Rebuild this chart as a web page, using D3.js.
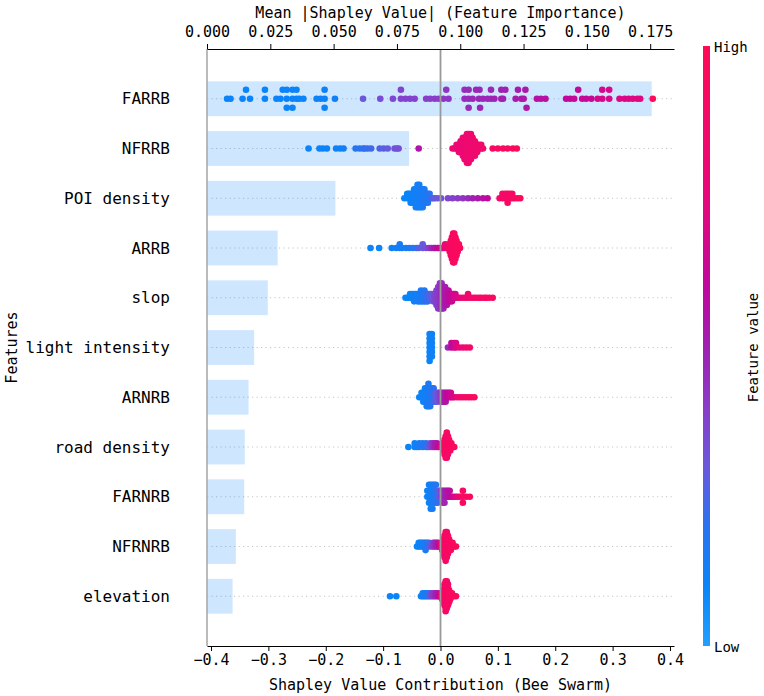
<!DOCTYPE html>
<html>
<head>
<meta charset="utf-8">
<script src="https://cdn.jsdelivr.net/npm/d3@7"></script>
<style>
  body { margin: 0; background: #fff; }
  text { font-family: "DejaVu Sans Mono", "Liberation Mono", monospace; fill: #000; }
</style>
</head>
<body>
<div id="chart"></div>
<script>
// features, top to bottom
const features = ["FARRB", "NFRRB", "POI density", "ARRB", "slop", "light intensity",
  "ARNRB", "road density", "FARNRB", "NFRNRB", "elevation"];
// mean |shap| (top axis bars)
const meanAbs = [0.1756, 0.0798, 0.0507, 0.0279, 0.0240, 0.0186, 0.0164, 0.0149, 0.0147, 0.0114, 0.0101];

const topTicks = [0, 0.025, 0.05, 0.075, 0.1, 0.125, 0.15, 0.175];
const bottomTicks = [-0.4, -0.3, -0.2, -0.1, 0, 0.1, 0.2, 0.3, 0.4];

// colorbar stops (feature value low -> high)
const cmapStops = [0, 0.1, 0.2, 0.3, 0.4, 0.5, 0.6, 0.75, 1];
const cmapColors = ["#22a0ff", "#0a84f8", "#2a72f0", "#6a58dc", "#8a3cc8", "#a020b0", "#c0089c", "#e8087a", "#ff0a55"];

// beeswarm points: [shap value, feature value (0-1), count]
const farrb = [[-0.372,0.1,1],[-0.366,0.1,1],[-0.345,0.1,1],[-0.339,0.1,1],[-0.332,0.1,1],[-0.306,0.1,2],
  [-0.286,0.1,1],[-0.279,0.1,1],[-0.275,0.1,1],[-0.268,0.1,3],[-0.258,0.1,3],[-0.251,0.1,2],[-0.246,0.1,1],
  [-0.239,0.1,1],[-0.216,0.11,1],[-0.209,0.11,1],[-0.202,0.11,3],[-0.184,0.12,1],[-0.135,0.3,1],[-0.105,0.34,1],
  [-0.083,0.36,1],[-0.069,0.37,2],[-0.061,0.38,1],[-0.053,0.38,1],[-0.045,0.38,1],[-0.025,0.39,1],[-0.018,0.39,1],
  [-0.010,0.4,1],[-0.003,0.4,1],[0.005,0.42,1],[0.010,0.42,1],[0.014,0.42,1],[0.042,0.46,2],[0.049,0.46,3],
  [0.056,0.47,1],[0.062,0.47,1],[0.067,0.47,1],[0.068,0.47,1],[0.069,0.47,1],[0.074,0.48,1],[0.082,0.48,1],
  [0.088,0.48,2],[0.094,0.49,1],[0.106,0.5,2],[0.109,0.5,1],[0.113,0.5,1],[0.131,0.52,1],[0.135,0.52,1],
  [0.141,0.53,1],[0.145,0.53,1],[0.148,0.53,1],[0.150,0.53,1],[0.168,0.56,1],[0.175,0.56,1],[0.183,0.57,1],
  [0.219,0.6,1],[0.226,0.6,1],[0.233,0.61,1],[0.240,0.61,1],[0.247,0.62,1],[0.254,0.62,1],[0.263,0.63,1],
  [0.274,0.68,1],[0.282,0.68,2],[0.294,0.69,2],[0.312,0.7,1],[0.321,0.7,1],[0.328,0.71,1],[0.335,0.71,1],
  [0.343,0.72,1],[0.348,0.72,1],[0.370,0.98,1]];

const nfrrb = [[-0.230,0.1,1],[-0.211,0.1,1],[-0.205,0.1,1],[-0.198,0.1,1],[-0.182,0.12,1],[-0.175,0.12,1],
  [-0.169,0.12,1],[-0.148,0.17,1],[-0.141,0.19,1],[-0.135,0.2,1],[-0.132,0.21,1],[-0.127,0.22,1],[-0.121,0.23,1],
  [-0.106,0.26,1],[-0.099,0.28,1],[-0.092,0.29,1],[-0.080,0.31,1],[-0.076,0.32,1],[-0.073,0.33,1],[-0.038,0.55,1],
  [0.021,0.8,1],[0.025,0.8,1],[0.028,0.8,2],[0.032,0.8,3],[0.035,0.8,4],[0.039,0.8,6],[0.042,0.8,7],[0.046,0.82,9],
  [0.049,0.82,9],[0.053,0.82,8],[0.056,0.83,6],[0.060,0.83,5],[0.064,0.84,3],[0.067,0.84,2],[0.071,0.85,2],
  [0.074,0.85,1],[0.091,0.92,1],[0.100,0.93,1],[0.109,0.93,1],[0.117,0.94,1],[0.126,0.94,1],[0.133,0.95,1]];

const poi = [[-0.063,0.1,1],[-0.058,0.1,2],[-0.055,0.1,2],[-0.052,0.1,3],[-0.049,0.12,3],[-0.046,0.12,4],
  [-0.043,0.12,5],[-0.040,0.13,6],[-0.037,0.13,6],[-0.034,0.14,5],[-0.031,0.14,5],[-0.028,0.15,4],[-0.025,0.16,3],
  [-0.022,0.17,3],[-0.019,0.18,2],[-0.016,0.2,1],[-0.013,0.26,1],[-0.010,0.28,1],[-0.005,0.3,1],[0.001,0.32,1],
  [0.013,0.36,1],[0.021,0.38,1],[0.030,0.4,1],[0.039,0.43,1],[0.048,0.46,1],[0.056,0.5,1],[0.065,0.53,1],
  [0.074,0.56,1],[0.082,0.6,1],[0.103,0.85,1],[0.108,0.88,2],[0.113,0.88,2],[0.117,0.9,3],[0.121,0.9,2],
  [0.125,0.9,2],[0.129,0.92,1],[0.134,0.92,1],[0.139,0.95,1]];

const arrb = [[-0.122,0.1,1],[-0.107,0.1,1],[-0.085,0.12,1],[-0.077,0.12,1],[-0.071,0.14,2],[-0.067,0.14,1],
  [-0.060,0.15,1],[-0.054,0.16,1],[-0.048,0.18,1],[-0.042,0.2,1],[-0.038,0.27,1],[-0.031,0.3,2],[-0.025,0.33,1],
  [-0.020,0.4,1],[-0.016,0.45,1],[-0.012,0.5,1],[-0.009,0.55,1],[-0.005,0.6,1],[-0.002,0.62,1],[0.002,0.66,1],
  [0.004,0.7,1],[0.008,0.75,2],[0.012,0.85,1],[0.014,0.88,2],[0.016,0.9,3],[0.018,0.9,5],[0.020,0.92,7],
  [0.022,0.92,9],[0.024,0.93,9],[0.026,0.93,7],[0.028,0.94,5],[0.030,0.94,3],[0.032,0.95,2],[0.034,0.95,1]];

const slop = [[-0.061,0.1,1],[-0.057,0.1,1],[-0.053,0.1,2],[-0.049,0.12,2],[-0.046,0.12,3],[-0.043,0.12,2],
  [-0.040,0.14,3],[-0.037,0.14,3],[-0.034,0.15,4],[-0.031,0.16,3],[-0.028,0.18,4],[-0.025,0.2,3],[-0.022,0.22,3],
  [-0.019,0.25,2],[-0.016,0.28,2],[-0.013,0.3,3],[-0.010,0.36,3],[-0.007,0.38,5],[-0.004,0.4,7],[-0.001,0.43,8],
  [0.002,0.46,8],[0.005,0.49,7],[0.008,0.52,6],[0.011,0.55,5],[0.014,0.58,4],[0.017,0.6,3],[0.020,0.63,3],
  [0.023,0.65,2],[0.026,0.68,2],[0.030,0.7,1],[0.034,0.74,1],[0.039,0.77,1],[0.044,0.8,1],[0.048,0.82,2],
  [0.053,0.85,1],[0.058,0.87,1],[0.062,0.88,1],[0.067,0.88,1],[0.071,0.9,1],[0.076,0.9,1],[0.080,0.92,1],
  [0.085,0.92,1],[0.091,0.95,1]];

const light = [[-0.019,0.1,7],[-0.015,0.12,6],[0.013,0.45,1],[0.019,0.6,2],[0.024,0.65,2],[0.027,0.7,2],
  [0.033,0.75,1],[0.039,0.8,1],[0.045,0.85,1],[0.051,0.9,1]];

const arnrb = [[-0.037,0.1,1],[-0.033,0.1,2],[-0.030,0.12,3],[-0.027,0.12,4],[-0.024,0.14,5],[-0.021,0.15,6],
  [-0.018,0.16,5],[-0.015,0.18,4],[-0.012,0.2,4],[-0.009,0.25,3],[-0.006,0.3,3],[-0.003,0.35,2],[0.000,0.4,3],
  [0.003,0.45,3],[0.006,0.5,3],[0.009,0.55,3],[0.012,0.6,2],[0.015,0.62,2],[0.018,0.65,2],[0.021,0.68,1],
  [0.024,0.7,1],[0.029,0.8,1],[0.034,0.85,1],[0.039,0.88,1],[0.044,0.9,1],[0.049,0.9,1],[0.054,0.92,1],
  [0.059,0.95,1]];

const road = [[-0.056,0.1,1],[-0.045,0.12,2],[-0.041,0.12,1],[-0.037,0.15,2],[-0.031,0.18,2],[-0.025,0.2,2],
  [-0.022,0.25,1],[-0.018,0.35,2],[-0.014,0.42,2],[-0.010,0.5,2],[-0.006,0.55,2],[-0.003,0.6,1],[0.001,0.75,1],
  [0.003,0.8,2],[0.005,0.85,3],[0.007,0.88,5],[0.009,0.9,7],[0.011,0.9,8],[0.013,0.9,6],[0.015,0.92,4],
  [0.017,0.92,3],[0.019,0.92,2],[0.022,0.95,1],[0.024,0.95,1]];

const farnrb = [[-0.023,0.1,2],[-0.020,0.12,4],[-0.017,0.12,5],[-0.014,0.14,5],[-0.011,0.15,4],[-0.008,0.18,4],
  [-0.005,0.22,3],[-0.002,0.28,2],[0.001,0.38,2],[0.004,0.42,3],[0.007,0.48,3],[0.010,0.52,2],[0.013,0.55,2],
  [0.016,0.58,2],[0.019,0.6,1],[0.022,0.65,1],[0.026,0.7,1],[0.030,0.75,1],[0.034,0.8,1],[0.039,0.92,3],
  [0.045,0.92,1],[0.051,0.95,1]];

const nfrnrb = [[-0.041,0.1,1],[-0.038,0.1,2],[-0.035,0.12,2],[-0.032,0.12,2],[-0.029,0.14,2],[-0.026,0.15,3],
  [-0.023,0.18,2],[-0.020,0.22,2],[-0.016,0.35,1],[-0.013,0.4,2],[-0.010,0.45,2],[-0.007,0.5,2],[-0.004,0.55,2],
  [-0.002,0.6,1],[0.001,0.75,2],[0.003,0.8,3],[0.005,0.85,5],[0.007,0.88,7],[0.009,0.9,9],[0.011,0.9,8],
  [0.013,0.9,6],[0.015,0.92,4],[0.018,0.92,3],[0.021,0.95,2],[0.024,0.95,1],[0.027,0.95,1]];

const elevation = [[-0.088,0.1,1],[-0.077,0.1,1],[-0.034,0.12,1],[-0.031,0.12,2],[-0.028,0.14,2],[-0.025,0.15,2],
  [-0.022,0.18,2],[-0.019,0.22,2],[-0.016,0.35,2],[-0.013,0.4,2],[-0.010,0.45,2],[-0.007,0.5,2],[-0.004,0.55,2],
  [-0.002,0.6,1],[0.001,0.75,2],[0.003,0.8,3],[0.005,0.85,5],[0.007,0.88,8],[0.009,0.9,11],[0.011,0.9,10],
  [0.013,0.9,8],[0.015,0.92,5],[0.017,0.92,3],[0.020,0.95,2],[0.023,0.95,1],[0.027,0.95,1]];

const swarmData = [farrb, nfrrb, poi, arrb, slop, light, arnrb, road, farnrb, nfrnrb, elevation];

const W = 764, H = 696;
const m = { left: 207, right: 674, top: 49, bottom: 646 };

const svg = d3.select("#chart").append("svg").attr("width", W).attr("height", H);

const xBot = d3.scaleLinear().domain([-0.407, 0.407]).range([m.left, m.right]);
const xTop = d3.scaleLinear().domain([0, 0.1844]).range([m.left, m.right]);
const y = d3.scaleLinear().domain([-1, features.length]).range([m.top, m.bottom]);
const color = d3.scaleLinear().domain(cmapStops).range(cmapColors).interpolate(d3.interpolateRgb);

// shap style beeswarm offsets (in row units, positive = up)
function swarm(pts) {
  const xs = pts.map(p => p.v);
  const lo = d3.min(xs), hi = d3.max(xs);
  const quant = xs.map(v => Math.round(100 * (v - lo) / (hi - lo + 1e-8)));
  const order = d3.range(xs.length).sort((a, b) => quant[a] - quant[b] || a - b);
  const ys = new Array(xs.length).fill(0);
  let layer = 0, last = -1;
  order.forEach(i => {
    if (quant[i] !== last) layer = 0;
    ys[i] = Math.ceil(layer / 2) * ((layer % 2) * 2 - 1);
    layer++;
    last = quant[i];
  });
  const mx = d3.max(ys, d => d + 1);
  return ys.map(d => d * 0.9 * (0.4 / mx));
}

// dotted row guides
svg.append("g").selectAll("line")
  .data(features)
  .join("line")
  .attr("x1", m.left).attr("x2", m.right)
  .attr("y1", (d, i) => y(i)).attr("y2", (d, i) => y(i))
  .attr("stroke", "#c4c4c4")
  .attr("stroke-width", 1)
  .attr("stroke-dasharray", "1.2,3.3");

// importance bars
const bh = y(0.35) - y(-0.35);
svg.append("g").selectAll("rect")
  .data(meanAbs)
  .join("rect")
  .attr("x", xTop(0))
  .attr("y", (d, i) => y(i) - bh / 2)
  .attr("width", d => xTop(d) - xTop(0))
  .attr("height", bh)
  .attr("fill", "#1e90ff")
  .attr("fill-opacity", 0.22);

// beeswarm
swarmData.forEach((rows, i) => {
  const pts = [];
  rows.forEach(r => { for (let k = 0; k < r[2]; k++) pts.push({ v: r[0], f: r[1] }); });
  const off = swarm(pts);
  pts.forEach((p, j) => { p.yy = i - off[j]; });
  svg.append("g").selectAll("circle")
    .data(pts)
    .join("circle")
    .attr("cx", d => xBot(d.v))
    .attr("cy", d => y(d.yy))
    .attr("r", 3.3)
    .attr("fill", d => color(d.f));
});

// zero line
svg.append("line")
  .attr("x1", xBot(0)).attr("x2", xBot(0))
  .attr("y1", m.top).attr("y2", m.bottom)
  .attr("stroke", "#999").attr("stroke-width", 1.8);

// left spine
svg.append("line")
  .attr("x1", m.left).attr("x2", m.left).attr("y1", m.top).attr("y2", m.bottom)
  .attr("stroke", "#aaa").attr("stroke-width", 1.6);

// axes
const gTop = svg.append("g").attr("transform", `translate(0,${m.top})`)
  .call(d3.axisTop(xTop).tickValues(topTicks).tickFormat(d3.format(".3f")).tickSize(5).tickSizeOuter(0));
const gBot = svg.append("g").attr("transform", `translate(0,${m.bottom})`)
  .call(d3.axisBottom(xBot).tickValues(bottomTicks).tickFormat(d3.format(".1f")).tickSize(5).tickSizeOuter(0));
[gTop, gBot].forEach(g => {
  g.selectAll("text").style("font-size", "15px").style("font-family", "DejaVu Sans Mono");
  g.select(".domain").attr("stroke", "#000");
});
gTop.selectAll(".tick text").attr("dy", "-0.25em");

// y labels
svg.append("g").selectAll("text")
  .data(features)
  .join("text")
  .attr("x", 170)
  .attr("y", (d, i) => y(i))
  .attr("dy", "0.35em")
  .attr("text-anchor", "end")
  .style("font-size", "16px")
  .text(d => d);

// titles
svg.append("text").attr("x", (m.left + m.right) / 2).attr("y", 18)
  .attr("text-anchor", "middle").style("font-size", "15px")
  .text("Mean |Shapley Value| (Feature Importance)");
svg.append("text").attr("x", (m.left + m.right) / 2).attr("y", 690)
  .attr("text-anchor", "middle").style("font-size", "15px")
  .text("Shapley Value Contribution (Bee Swarm)");
svg.append("text")
  .attr("transform", `translate(17,${(m.top + m.bottom) / 2}) rotate(-90)`)
  .attr("text-anchor", "middle").style("font-size", "15px")
  .text("Features");

// colorbar
const defs = svg.append("defs");
const grad = defs.append("linearGradient").attr("id", "cbar")
  .attr("x1", 0).attr("y1", 1).attr("x2", 0).attr("y2", 0);
grad.selectAll("stop")
  .data(cmapStops)
  .join("stop")
  .attr("offset", d => d)
  .attr("stop-color", (d, i) => cmapColors[i]);
svg.append("rect")
  .attr("x", 703).attr("y", m.top - 3).attr("width", 7).attr("height", m.bottom - m.top + 3)
  .attr("fill", "url(#cbar)");
svg.append("text").attr("x", 714).attr("y", m.top - 2).attr("dy", "0.35em")
  .style("font-size", "14px").text("High");
svg.append("text").attr("x", 714).attr("y", m.bottom + 1).attr("dy", "0.35em")
  .style("font-size", "14px").text("Low");
svg.append("text")
  .attr("transform", `translate(753,${(m.top + m.bottom) / 2}) rotate(-90)`)
  .attr("text-anchor", "middle").attr("dy", "0.35em").style("font-size", "14px")
  .text("Feature value");
</script>
</body>
</html>
